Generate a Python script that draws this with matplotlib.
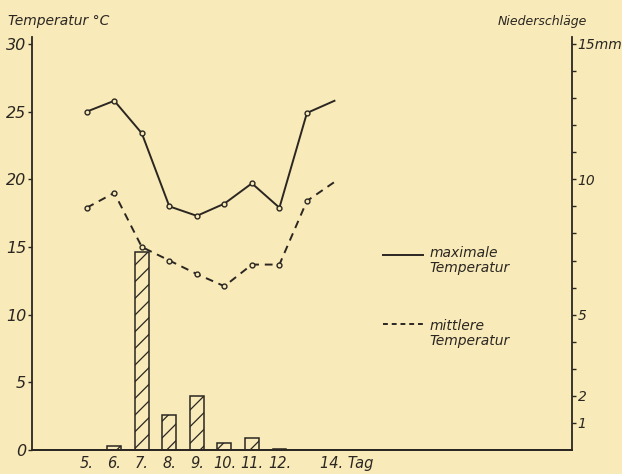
import matplotlib
matplotlib.use("Agg")
import matplotlib.pyplot as plt
import matplotlib.transforms as mtransforms

# days of the month
days = [5, 6, 7, 8, 9, 10, 11, 12, 13, 14]
t_max = [25.0, 25.8, 23.4, 18.0, 17.3, 18.2, 19.7, 17.9, 24.9, 25.8]
t_mean = [17.9, 19.0, 15.0, 14.0, 13.0, 12.1, 13.7, 13.7, 18.4, 19.8]

rain_days = [6, 7, 8, 9, 10, 11, 12]
rain_mm = [0.15, 7.3, 1.3, 2.0, 0.25, 0.45, 0.05]

tick_days = [5, 6, 7, 8, 9, 10, 11, 12, 14]
tick_labels = ["5.", "6.", "7.", "8.", "9.", "10.", "11.", "12.", "14. Tag"]

BG = "#f8ebb9"
INK = "#2b2622"

plt.rcParams["font.family"] = ["DejaVu Sans Condensed", "Liberation Sans Narrow", "DejaVu Sans"]
plt.rcParams["font.style"] = "italic"
plt.rcParams["hatch.linewidth"] = 0.9
plt.rcParams["hatch.color"] = INK

fig = plt.figure(figsize=(6.22, 4.74), dpi=100, facecolor=BG)
ax = fig.add_axes([0.051, 0.0506, 0.869, 0.871])
ax2 = ax.twinx()
ax.set_zorder(ax2.get_zorder() + 1)
ax.patch.set_visible(False)
ax2.set_facecolor(BG)

# precipitation bars
ax2.bar(rain_days, rain_mm, width=0.5, facecolor="none", edgecolor=INK,
        linewidth=1.1, hatch="//")

# temperature lines, last point without marker
ax.plot(days, t_max, color=INK, lw=1.4, marker="o", markersize=3.5,
        markerfacecolor=BG, markeredgewidth=1.0, markevery=list(range(9)))
ax.plot(days, t_mean, color=INK, lw=1.4, ls=(0, (4, 3)), marker="o",
        markersize=3.5, markerfacecolor=BG, markeredgewidth=1.0,
        markevery=list(range(9)))

ax.set_xlim(3.0, 22.64)
ax.set_ylim(0, 30.5)
ax2.set_ylim(0, 15.25)

for a in (ax, ax2):
    a.spines["top"].set_visible(False)
    for s in a.spines.values():
        s.set_color(INK)
        s.set_linewidth(1.3)

ax.spines["right"].set_visible(False)
ax2.spines["left"].set_visible(False)

ax.set_yticks([0, 5, 10, 15, 20, 25, 30])
ax.tick_params(axis="y", direction="out", length=3, width=1, colors=INK,
               labelsize=11.5, pad=1)
ax.set_xticks(tick_days)
ax.set_xticklabels(tick_labels)
ax.tick_params(axis="x", length=0, labelsize=10.5, pad=4, colors=INK)

# "14. Tag" starts a little left of day 14
last = ax.get_xticklabels()[-1]
last.set_horizontalalignment("left")
last.set_transform(last.get_transform() +
                   mtransforms.ScaledTranslation(-14 / 100, 0, fig.dpi_scale_trans))

ax2.set_yticks([1, 2, 5, 10, 15])
ax2.set_yticklabels(["1", "2", "5", "10", "15mm"])
ax2.set_yticks(range(1, 16), minor=True)
ax2.tick_params(axis="y", which="both", direction="out", length=3, width=1,
                colors=INK, labelsize=10, pad=1)

for lab in ax.get_yticklabels() + ax.get_xticklabels() + ax2.get_yticklabels():
    lab.set_style("italic")

fig.text(0.013, 0.947, "Temperatur °C", fontsize=10, color=INK, ha="left")
fig.text(0.943, 0.947, "Niederschläge", fontsize=9, color=INK, ha="right")

# hand drawn legend
ax.plot([15.75, 17.2], [14.4, 14.4], color=INK, lw=1.4)
ax.text(17.45, 14.0, "maximale\nTemperatur", fontsize=10, color=INK,
        va="center", ha="left", linespacing=1.1)
ax.plot([15.75, 17.2], [9.3, 9.3], color=INK, lw=1.4, ls=(0, (2.5, 2)))
ax.text(17.45, 8.6, "mittlere\nTemperatur", fontsize=10, color=INK,
        va="center", ha="left", linespacing=1.1)

fig.savefig("out.png", dpi=100, facecolor=BG)
